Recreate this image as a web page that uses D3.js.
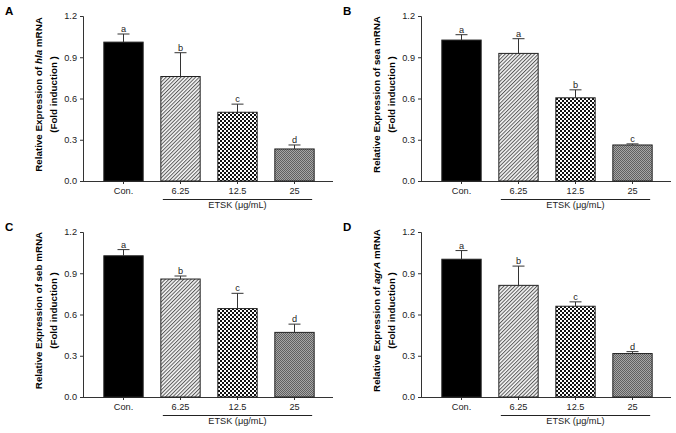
<!DOCTYPE html>
<html>
<head>
<meta charset="utf-8">
<script src="https://cdn.jsdelivr.net/npm/d3@7"></script>
<style>
  html, body { margin: 0; padding: 0; background: #fff; }
  svg { display: block; font-family: "Liberation Sans", Arial, sans-serif; }
</style>
</head>
<body>
<svg id="chart" width="676" height="433"></svg>
<script>
// ---- data ----
const categories = ["Con.", "6.25", "12.5", "25"];
const yTicks = [0.0, 0.3, 0.6, 0.9, 1.2];
const groupLabel = "ETSK (\u03bcg/mL)";

const panelLetters = ["A", "B", "C", "D"];
const geneNames = ["hla", "sea", "seb", "agrA"];
const geneItalic = [true, false, false, true];

const hlaMeans = [1.01, 0.76, 0.50, 0.233];
const hlaErrors = [0.059, 0.173, 0.059, 0.029];
const hlaLetters = ["a", "b", "c", "d"];

const seaMeans = [1.025, 0.928, 0.605, 0.262];
const seaErrors = [0.039, 0.107, 0.058, 0.008];
const seaLetters = ["a", "a", "b", "c"];

const sebMeans = [1.027, 0.858, 0.643, 0.470];
const sebErrors = [0.045, 0.022, 0.111, 0.060];
const sebLetters = ["a", "b", "c", "d"];

const agrAMeans = [1.002, 0.812, 0.660, 0.316];
const agrAErrors = [0.063, 0.140, 0.032, 0.014];
const agrALetters = ["a", "b", "c", "d"];

const allMeans = [hlaMeans, seaMeans, sebMeans, agrAMeans];
const allErrors = [hlaErrors, seaErrors, sebErrors, agrAErrors];
const allLetters = [hlaLetters, seaLetters, sebLetters, agrALetters];

// ---- drawing ----
const svg = d3.select("#chart");
const defs = svg.append("defs");

// diagonal stripes
const pStripe = defs.append("pattern").attr("id", "stripe")
  .attr("patternUnits", "userSpaceOnUse").attr("width", 2.6).attr("height", 2.6)
  .attr("patternTransform", "rotate(-45)");
pStripe.append("rect").attr("width", 2.6).attr("height", 2.6).attr("fill", "#f6f6f6");
pStripe.append("rect").attr("width", 2.6).attr("height", 1).attr("fill", "#5a5a5a");

// black/white checker
const pCheck = defs.append("pattern").attr("id", "check")
  .attr("patternUnits", "userSpaceOnUse").attr("width", 4).attr("height", 4);
pCheck.append("rect").attr("width", 4).attr("height", 4).attr("fill", "#fff");
pCheck.append("rect").attr("width", 2).attr("height", 2).attr("fill", "#111");
pCheck.append("rect").attr("x", 2).attr("y", 2).attr("width", 2).attr("height", 2).attr("fill", "#111");

// grey fine checker
const pGrey = defs.append("pattern").attr("id", "greycheck")
  .attr("patternUnits", "userSpaceOnUse").attr("width", 2).attr("height", 2);
pGrey.append("rect").attr("width", 2).attr("height", 2).attr("fill", "#a6a6a6");
pGrey.append("rect").attr("width", 1).attr("height", 1).attr("fill", "#606060");
pGrey.append("rect").attr("x", 1).attr("y", 1).attr("width", 1).attr("height", 1).attr("fill", "#606060");

const fills = ["#000", "url(#stripe)", "url(#check)", "url(#greycheck)"];

const offsets = [[0, 0], [338, 0], [0, 216], [338, 216]];

const axisX = 83, axisRight = 333, yTop = 16, yBot = 181;

const x = d3.scaleBand().domain(categories).range([95, 323])
  .paddingInner(0.31).paddingOuter(0.155);
const y = d3.scaleLinear().domain([0, 1.2]).range([yBot, yTop]);

const axisColor = "#333";

allMeans.forEach((means, pi) => {
  const errs = allErrors[pi];
  const letters = allLetters[pi];
  const g = svg.append("g").attr("transform", `translate(${offsets[pi][0]},${offsets[pi][1]})`);

  // panel letter
  g.append("text").attr("x", 5).attr("y", 15)
    .attr("font-size", 11.5).attr("font-weight", "bold").text(panelLetters[pi]);

  // y title
  const tg = g.append("g").attr("transform", `translate(38,${(yTop + yBot) / 2 - 4}) rotate(-90)`);
  const t1 = tg.append("text").attr("text-anchor", "middle").attr("y", 3.5)
    .attr("font-size", 9.8).attr("font-weight", "bold");
  t1.append("tspan").text("Relative Expression of ");
  t1.append("tspan").attr("font-style", geneItalic[pi] ? "italic" : "normal").text(geneNames[pi]);
  t1.append("tspan").text(" mRNA");
  tg.append("text").attr("text-anchor", "middle").attr("y", 18.5)
    .attr("font-size", 9.8).attr("font-weight", "bold").text("(Fold induction )");

  // y axis
  const yAxis = d3.axisLeft(y).tickValues(yTicks).tickFormat(d3.format(".1f"))
    .tickSize(3).tickPadding(3);
  const ya = g.append("g").attr("transform", `translate(${axisX},0)`).call(yAxis);
  ya.select(".domain").attr("stroke", axisColor);
  ya.selectAll(".tick line").attr("stroke", axisColor);
  ya.selectAll("text").attr("font-size", 9.2).attr("fill", "#222")
    .attr("font-family", "'Liberation Sans', Arial, sans-serif");

  // x axis line
  g.append("line").attr("x1", axisX).attr("x2", axisRight)
    .attr("y1", yBot + 0.5).attr("y2", yBot + 0.5).attr("stroke", axisColor);
  const xAxis = d3.axisBottom(x).tickSize(3).tickPadding(3).tickSizeOuter(0);
  const xa = g.append("g").attr("transform", `translate(0,${yBot})`).call(xAxis);
  xa.select(".domain").remove();
  xa.selectAll(".tick line").attr("stroke", axisColor);
  xa.selectAll("text").attr("font-size", 9.2).attr("fill", "#222")
    .attr("font-family", "'Liberation Sans', Arial, sans-serif");

  // bars
  g.selectAll("rect.bar").data(means).enter().append("rect")
    .attr("class", "bar")
    .attr("x", (d, i) => x(categories[i]))
    .attr("width", x.bandwidth())
    .attr("y", d => y(d))
    .attr("height", d => y(0) - y(d))
    .attr("fill", (d, i) => fills[i])
    .attr("stroke", "#222").attr("stroke-width", 1);

  // error bars
  const cap = 6;
  means.forEach((m, i) => {
    const cx = x(categories[i]) + x.bandwidth() / 2;
    g.append("line").attr("x1", cx).attr("x2", cx)
      .attr("y1", y(m)).attr("y2", y(m + errs[i])).attr("stroke", "#333");
    g.append("line").attr("x1", cx - cap).attr("x2", cx + cap)
      .attr("y1", y(m + errs[i])).attr("y2", y(m + errs[i])).attr("stroke", "#333");
    g.append("text").attr("x", cx).attr("y", y(m + errs[i]) - 2)
      .attr("text-anchor", "middle").attr("font-size", 9.2).attr("fill", "#222")
      .text(letters[i]);
  });

  // group underline and label
  g.append("line").attr("x1", x("6.25") + 2).attr("x2", x("25") + x.bandwidth() - 2)
    .attr("y1", 199.5).attr("y2", 199.5).attr("stroke", "#222");
  g.append("text")
    .attr("x", (x("6.25") + x("25") + x.bandwidth()) / 2).attr("y", 208)
    .attr("text-anchor", "middle").attr("font-size", 9.2).attr("fill", "#222")
    .text(groupLabel);
});
</script>
</body>
</html>
